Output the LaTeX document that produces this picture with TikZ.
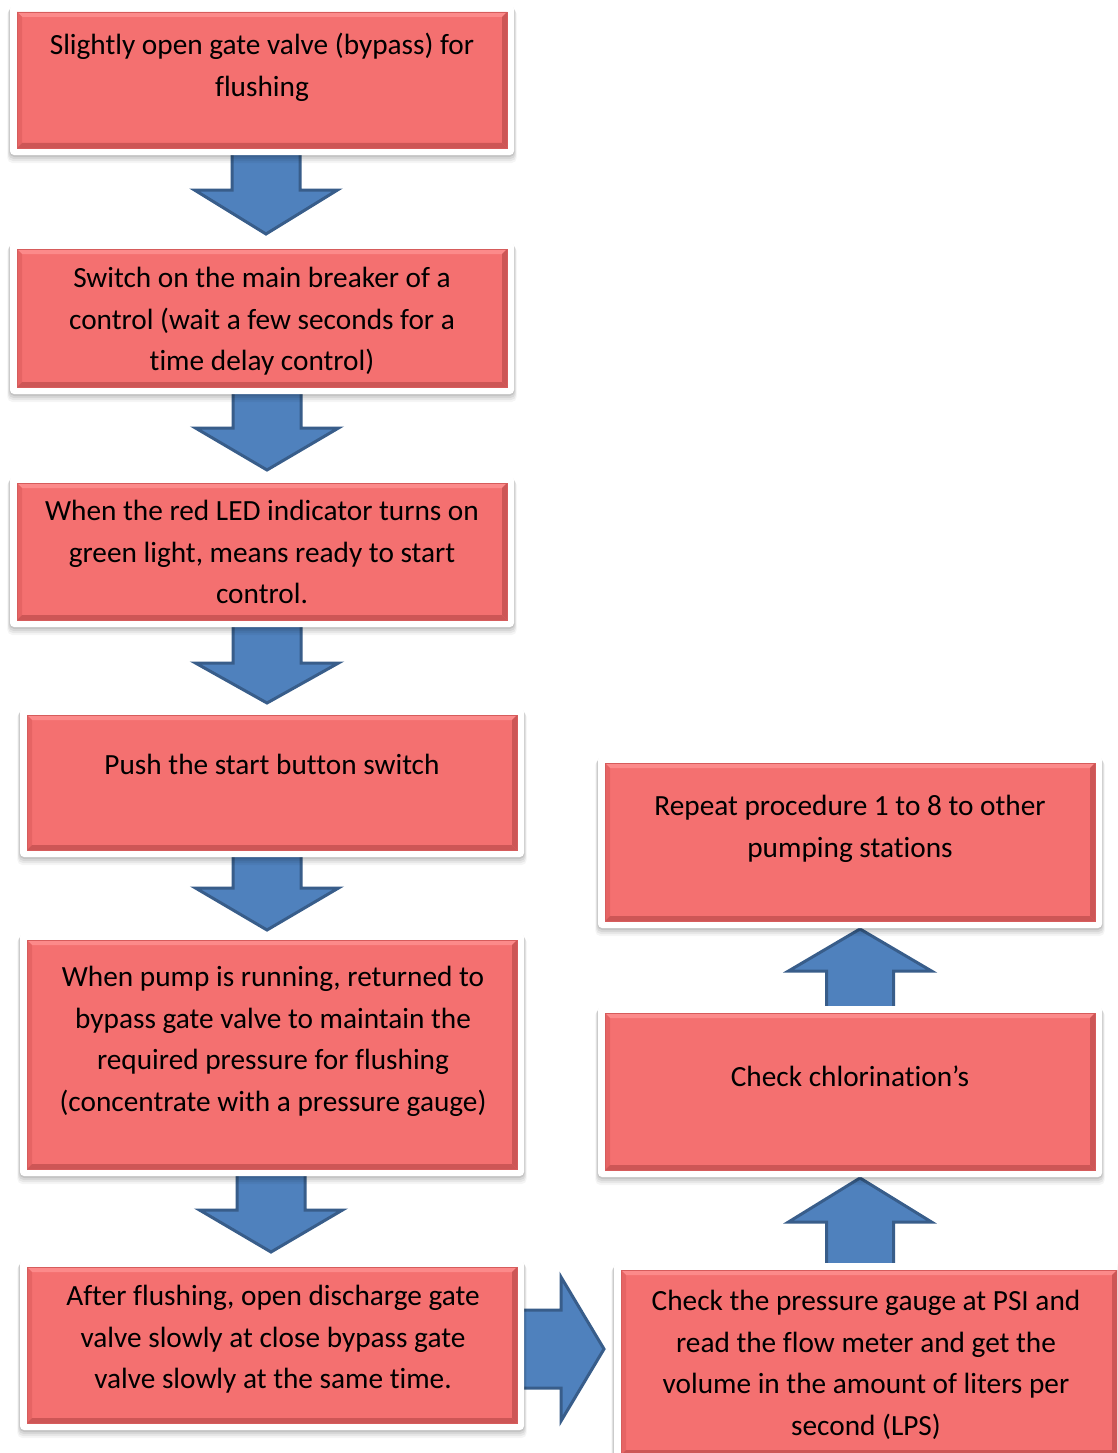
\documentclass[tikz,border=0pt]{standalone}
\usepackage{fontspec}
\setmainfont{Carlito}[Ligatures=NoCommon]
\usetikzlibrary{fit}

\definecolor{boxred}{RGB}{244,112,112}
\definecolor{bevlight}{RGB}{252,138,138}
\definecolor{bevside}{RGB}{230,100,100}
\definecolor{bevdark}{RGB}{205,86,86}
\definecolor{boxedge}{RGB}{214,92,92}
\definecolor{arrowblue}{RGB}{79,129,189}
\definecolor{arrowedge}{RGB}{56,93,138}

\tikzset{
  steptext/.style={font=\fontsize{29.3}{41.5}\selectfont, align=center,
                   inner sep=0pt, anchor=north},
  arrowfill/.style={fill=arrowblue},
  arrowline/.style={draw=arrowedge, line width=3pt, line join=miter},
  framestyle/.style={fill=white, rounded corners=4pt},
}

% process box: white frame with soft shadow, bevelled red panel inside
% #1 name, #2 x1, #3 y1, #4 x2, #5 y2 (outer frame)
\newcommand\procbox[5]{%
  \foreach \s/\o in {8/0.04,6/0.055,4/0.065,2/0.085}{%
    \fill[black, opacity=\o, rounded corners=5pt] (#2-\s/3,#3+\s/2) rectangle (#4+\s/3,#5+\s);}
  \fill[framestyle] (#2,#3) rectangle (#4,#5);
  \pgfmathsetmacro\xa{#2+7}\pgfmathsetmacro\ya{#3+7}%
  \pgfmathsetmacro\xb{#4-7}\pgfmathsetmacro\yb{#5-7}%
  \fill[boxred] (\xa,\ya) rectangle (\xb,\yb);
  \fill[bevlight] (\xa,\ya) -- (\xb,\ya) -- (\xb-5,\ya+5) -- (\xa+5,\ya+5) -- cycle;
  \fill[bevside] (\xa,\ya) -- (\xa+5,\ya+5) -- (\xa+5,\yb-5) -- (\xa,\yb) -- cycle;
  \fill[bevdark] (\xb,\ya) -- (\xb-5,\ya+5) -- (\xb-5,\yb-5) -- (\xb,\yb) -- cycle;
  \fill[bevdark] (\xa,\yb) -- (\xb,\yb) -- (\xb-5,\yb-5) -- (\xa+5,\yb-5) -- cycle;
  \draw[boxedge, line width=0.8pt] (\xa,\ya) rectangle (\xb,\yb);
  \coordinate (#1-nw) at (\xa,\ya);
  \coordinate (#1-se) at (\xb,\yb);
  \node[inner sep=0pt, fit=(#1-nw)(#1-se)] (#1) {};
}

% block arrows: #1 name, #2 centre, #3 tail, #4 head base, #5 tip
\newcommand\downarrowblock[5]{%
  \fill[arrowfill] (#2-34,#3) -- (#2-34,#4) -- (#2-71.5,#4) -- (#2,#5) -- (#2+71.5,#4) -- (#2+34,#4) -- (#2+34,#3) -- cycle;
  \draw[arrowline] (#2-34,#3) -- (#2-34,#4) -- (#2-71.5,#4) -- (#2,#5) -- (#2+71.5,#4) -- (#2+34,#4) -- (#2+34,#3);
  \coordinate (#1) at (#2,#5);
}
\newcommand\uparrowblock[5]{%
  \fill[arrowfill] (#2-33.5,#3) -- (#2-33.5,#4) -- (#2-71.5,#4) -- (#2,#5) -- (#2+71.5,#4) -- (#2+33.5,#4) -- (#2+33.5,#3) -- cycle;
  \draw[arrowline] (#2-33.5,#3) -- (#2-33.5,#4) -- (#2-71.5,#4) -- (#2,#5) -- (#2+71.5,#4) -- (#2+33.5,#4) -- (#2+33.5,#3);
  \coordinate (#1) at (#2,#5);
}
\newcommand\rightarrowblock[5]{%
  \fill[arrowfill] (#3,#2-39) -- (#4,#2-39) -- (#4,#2-72) -- (#5,#2) -- (#4,#2+72) -- (#4,#2+39) -- (#3,#2+39) -- cycle;
  \draw[arrowline] (#3,#2-39) -- (#4,#2-39) -- (#4,#2-72) -- (#5,#2) -- (#4,#2+72) -- (#4,#2+39) -- (#3,#2+39);
  \coordinate (#1) at (#5,#2);
}

\begin{document}
\begin{tikzpicture}[x=1pt,y=-1pt]
  \useasboundingbox (0,0) rectangle (1117,1453);
  \clip (0,0) rectangle (1117,1453);
  \fill[white] (0,0) rectangle (1117,1453);

  % connecting block arrows
  \downarrowblock{a1}{266}{150}{190}{234}
  \downarrowblock{a2}{267}{389}{428}{470}
  \downarrowblock{a3}{267}{622}{663}{703}
  \downarrowblock{a4}{267}{852}{888}{930}
  \downarrowblock{a5}{271}{1171}{1210}{1252}
  \rightarrowblock{a6}{1349}{519}{561}{604}
  \uparrowblock{a7}{860}{1267}{1222}{1178}
  \uparrowblock{a8}{860}{1011}{971}{929}

  % process steps
  \procbox{s1}{10}{5}{514}{155}
  \procbox{s2}{10}{242}{514}{394}
  \procbox{s3}{10}{476}{514}{627}
  \procbox{s4}{20}{708}{524}{857}
  \procbox{s5}{20}{933}{524}{1176}
  \procbox{s6}{20}{1260}{524}{1430}
  \procbox{s7}{614}{1263}{1124}{1462}
  \procbox{s8}{598}{1006}{1102}{1177}
  \procbox{s9}{598}{756}{1102}{928}

  \node[steptext] (t1) at (262,33) {Slightly open gate valve (bypass) for\\flushing};
  \node[steptext] (t2) at (262,267) {Switch on the main breaker of a\\control (wait a few seconds for a\\time delay control)};
  \node[steptext] (t3) at (262,500) {When the red LED indicator turns on\\green light, means ready to start\\control.};
  \node[steptext] (t4) at (272,754) {Push the start button switch};
  \node[steptext] (t5) at (273,966) {When pump is running, returned to\\bypass gate valve to maintain the\\required pressure for flushing\\(concentrate with a pressure gauge)};
  \node[steptext] (t6) at (273,1285) {After flushing, open discharge gate\\valve slowly at close bypass gate\\valve slowly at the same time.};
  \node[steptext] (t7) at (866,1290) {Check the pressure gauge at PSI and\\read the flow meter and get the\\volume in the amount of liters per\\second (LPS)};
  \node[steptext] (t8) at (850,1066) {Check chlorination’s};
  \node[steptext] (t9) at (850,795) {Repeat procedure 1 to 8 to other\\pumping stations};
\end{tikzpicture}
\end{document}
